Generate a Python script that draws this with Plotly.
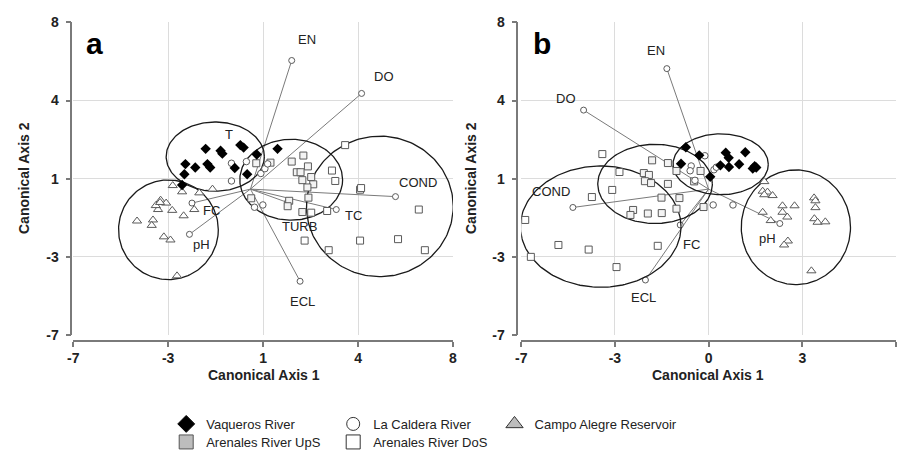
import numpy as np
import plotly.graph_objects as go

# ---------------- Panel a : canonical scores ----------------
a_vaq_x = [-1.77, -1.18, -1.11, -0.40, -0.27, 0.25, 1.07, -2.57, -2.18, -1.70, -1.59, -0.62, -2.61, -0.13, -2.70]
a_vaq_y = [1.93, 1.84, 1.70, 2.11, 1.99, 1.66, 1.93, 1.20, 1.04, 1.20, 1.04, 1.01, 0.71, 0.71, 0.20]

a_lac_x = [-0.75, -0.75, -0.16, 0.16, 0.49, 0.41, 0.57, 0.68]
a_lac_y = [1.24, 0.39, 1.32, -0.87, -0.76, 0.75, 0.98, 1.21]

a_cam_x = [-3.07, -2.70, -2.02, -1.50, -3.55, -3.65, -3.33, -3.09, -2.64, -2.22, -4.48, -3.85, -3.90, -3.42, -3.16, -2.90, -3.74, -3.57]
a_cam_y = [0.17, -0.13, -0.18, 0.00, -0.53, -0.98, -0.67, -1.02, -1.28, -0.98, -1.53, -1.48, -1.74, -2.29, -2.44, -4.16, -0.79, -0.64]

a_ups_x = [0.23, 0.79, 1.63, 2.09, 2.27, 1.83, 1.98, 2.40, 2.05, 2.48, 2.25, 2.29, 0.03, 1.53, 1.47, 2.05]
a_ups_y = [1.24, 1.27, 1.32, 1.61, 1.09, 0.81, 0.81, 0.58, 0.43, 0.23, 0.08, -0.41, -0.44, -0.56, -0.82, -1.10]

a_dos_x = [3.22, 3.35, 2.40, 3.03, 3.74, 4.33, 4.37, 6.65, 4.33, 5.83, 6.89, 2.14, 3.09]
a_dos_y = [0.89, 0.39, -1.13, -1.05, 2.11, -0.03, 0.05, -0.98, -2.47, -2.40, -2.93, -2.47, -2.93]

# structure coefficients (biplot vectors), panel a
a_vars = ["EN", "DO", "COND", "TC", "TURB", "ECL", "FC", "pH"]
a_vec_x = [1.63, 4.39, 5.73, 3.39, 1.46, 1.96, -2.31, -2.41]
a_vec_y = [6.17, 4.59, -0.36, -0.98, -0.64, -4.42, -0.67, -2.17]

# 95% ellipses, panel a: centre x, centre y, half-width, half-height
a_ell_cx = [-1.39, -3.24, 1.61, 5.11]
a_ell_cy = [1.56, -1.95, 0.45, -0.83]
a_ell_rx = [1.94, 1.97, 2.03, 2.90]
a_ell_ry = [1.66, 2.39, 1.94, 3.37]

# ---------------- Panel b : canonical scores ----------------
b_vaq_x = [-0.85, -0.35, -1.03, 0.06, 0.64, 0.75, 1.37, 0.44, 0.76, 1.14, 1.65, 1.72, 1.78]
b_vaq_y = [2.01, 1.62, 1.22, 0.59, 1.75, 1.50, 1.77, 1.14, 1.06, 1.19, 0.99, 1.10, 1.04]

b_lac_x = [-0.14, -0.65, -0.69, 0.20, 0.29, 0.17, 0.91, -0.51]
b_lac_y = [1.60, 1.11, 0.88, 0.93, 1.05, -0.76, -0.76, 0.42]

b_cam_x = [2.08, 2.02, 2.20, 2.39, 2.08, 2.02, 2.32, 2.76, 2.76, 2.94, 3.21, 3.94, 3.99, 3.99, 3.95, 4.07, 4.36, 2.96, 2.82, 3.84]
b_cam_y = [0.36, -0.10, -0.14, -0.31, -0.27, -1.11, -1.51, -0.80, -1.11, -1.34, -0.80, -0.42, -0.56, -0.89, -1.42, -1.59, -1.57, -2.49, -2.68, -3.92]

b_ups_x = [-2.11, -1.52, -1.20, -0.30, -2.42, -2.23, -2.38, -2.15, -1.52, -1.76, -1.09, -2.82, -2.92, -2.27, -1.75, -1.20, -0.54, -0.19]
b_ups_y = [1.38, 1.25, 0.87, 0.87, 0.77, 0.68, 0.38, 0.29, 0.25, -0.41, -0.43, -1.00, -1.24, -1.17, -1.15, -0.94, 0.37, -0.86]

b_dos_x = [-3.97, -3.33, -3.60, -4.36, -6.85, -6.64, -5.61, -4.48, -3.44, -1.90]
b_dos_y = [1.68, 0.82, -0.04, -0.38, -1.48, -3.25, -2.68, -2.90, -3.74, -2.72]

b_vars = ["EN", "DO", "COND", "ECL", "FC", "pH"]
b_vec_x = [-1.56, -4.67, -5.07, -2.36, -1.06, 2.66]
b_vec_y = [5.78, 3.79, -0.88, -4.36, -1.72, -1.65]

b_ell_cx = [-4.03, -2.00, 0.45, 3.26]
b_ell_cy = [-1.80, 0.25, 1.19, -1.83]
b_ell_rx = [3.00, 2.14, 1.78, 2.04]
b_ell_ry = [2.91, 1.90, 1.46, 2.75]

# axis ticks
y_tickvals = [-7, -3.25, 0.5, 4.25, 8]
y_ticktext = ["-7", "-3", "1", "4", "8"]
a_x_tickvals = [-7, -3.25, 0.5, 4.25, 8]
a_x_ticktext = ["-7", "-3", "1", "4", "8"]
b_x_tickvals = [-7, -3.5, 0, 3.5, 7]
b_x_ticktext = ["-7", "-3", "0", "3", "7"]

groups = ["Vaqueros River", "La Caldera River", "Campo Alegre Reservoir",
          "Arenales River UpS", "Arenales River DoS"]

FONT = "Liberation Sans, Arial, sans-serif"
MARK = "#5a5a5a"

# label placement for each vector (text anchor in axis units)
a_label_pos = {"EN": (2.24, 7.17), "DO": (5.29, 5.39), "COND": (6.62, 0.34), "TC": (4.07, -1.28),
               "TURB": (1.92, -1.78), "ECL": (2.05, -5.38), "FC": (-1.54, -1.02),
               "pH": (-1.93, -2.64), "T": (-0.84, 2.60)}
b_label_pos = {"EN": (-1.96, 6.67), "DO": (-5.34, 4.36), "COND": (-5.87, -0.11),
               "ECL": (-2.42, -5.20), "FC": (-0.63, -2.64), "pH": (2.20, -2.36)}

fig = go.Figure()


def ellipse(cx, cy, rx, ry, n=200):
    t = np.linspace(0, 2 * np.pi, n)
    return cx + rx * np.cos(t), cy + ry * np.sin(t)


def add_panel(xa, ya, vaq, lac, cam, ups, dos, vec, ell):
    # vectors from the origin
    for vx, vy in zip(*vec):
        fig.add_trace(go.Scatter(x=[0, vx], y=[0, vy], mode="lines",
                                 line=dict(color="#7a7a7a", width=1),
                                 xaxis=xa, yaxis=ya, showlegend=False, hoverinfo="skip"))
    fig.add_trace(go.Scatter(x=vec[0], y=vec[1], mode="markers",
                             marker=dict(symbol="circle", size=6, color="white",
                                         line=dict(color=MARK, width=1)),
                             xaxis=xa, yaxis=ya, showlegend=False))
    # ellipses
    for cx, cy, rx, ry in zip(*ell):
        ex, ey = ellipse(cx, cy, rx, ry)
        fig.add_trace(go.Scatter(x=ex, y=ey, mode="lines",
                                 line=dict(color="#1a1a1a", width=1.3),
                                 xaxis=xa, yaxis=ya, showlegend=False, hoverinfo="skip"))
    # scores
    fig.add_trace(go.Scatter(x=ups[0], y=ups[1], mode="markers",
                             marker=dict(symbol="square", size=7, color="#f3f3f3",
                                         line=dict(color=MARK, width=1)),
                             xaxis=xa, yaxis=ya, showlegend=False))
    fig.add_trace(go.Scatter(x=dos[0], y=dos[1], mode="markers",
                             marker=dict(symbol="square", size=7, color="white",
                                         line=dict(color=MARK, width=1)),
                             xaxis=xa, yaxis=ya, showlegend=False))
    fig.add_trace(go.Scatter(x=cam[0], y=cam[1], mode="markers",
                             marker=dict(symbol="triangle-up", size=8, color="white",
                                         line=dict(color=MARK, width=1)),
                             xaxis=xa, yaxis=ya, showlegend=False))
    fig.add_trace(go.Scatter(x=lac[0], y=lac[1], mode="markers",
                             marker=dict(symbol="circle", size=6.5, color="white",
                                         line=dict(color=MARK, width=1)),
                             xaxis=xa, yaxis=ya, showlegend=False))
    fig.add_trace(go.Scatter(x=vaq[0], y=vaq[1], mode="markers",
                             marker=dict(symbol="diamond", size=8, color="black",
                                         line=dict(color="black", width=0)),
                             xaxis=xa, yaxis=ya, showlegend=False))


add_panel("x", "y", (a_vaq_x, a_vaq_y), (a_lac_x, a_lac_y), (a_cam_x, a_cam_y),
          (a_ups_x, a_ups_y), (a_dos_x, a_dos_y), (a_vec_x, a_vec_y),
          (a_ell_cx, a_ell_cy, a_ell_rx, a_ell_ry))
add_panel("x2", "y2", (b_vaq_x, b_vaq_y), (b_lac_x, b_lac_y), (b_cam_x, b_cam_y),
          (b_ups_x, b_ups_y), (b_dos_x, b_dos_y), (b_vec_x, b_vec_y),
          (b_ell_cx, b_ell_cy, b_ell_rx, b_ell_ry))

# legend entries: two columns on the left, Campo Alegre in its own column
legend_styles = [
    dict(symbol="diamond", size=13, color="black", line=dict(color="black", width=1)),
    dict(symbol="circle", size=13, color="white", line=dict(color="#333", width=1)),
    dict(symbol="triangle-up", size=15, color="#bdbdbd", line=dict(color="#333", width=1)),
    dict(symbol="square", size=14, color="#bdbdbd", line=dict(color="#555", width=1)),
    dict(symbol="square", size=14, color="white", line=dict(color="#333", width=1)),
]
legend_ids = ["legend", "legend", "legend3", "legend2", "legend2"]
for name, st, lg in zip(groups, legend_styles, legend_ids):
    fig.add_trace(go.Scatter(x=[None], y=[None], mode="markers", name=name, marker=st,
                             xaxis="x", yaxis="y", legend=lg))

annotations = []
lab_font = dict(family=FONT, size=13, color="#222222")
for v, (lx, ly) in a_label_pos.items():
    annotations.append(dict(x=lx, y=ly, xref="x", yref="y", text=v, showarrow=False,
                            xanchor="center", yanchor="middle", font=lab_font))
for v, (lx, ly) in b_label_pos.items():
    annotations.append(dict(x=lx, y=ly, xref="x2", yref="y2", text=v, showarrow=False,
                            xanchor="center", yanchor="middle", font=lab_font))

W, H = 900, 457
ytop, ybot = 1 - 15 / H, 1 - 342 / H

# panel letters
for cx, letter in ((89, "a"), (542, "b")):
    annotations.append(dict(x=cx / W, y=1 - 37 / H, xref="paper", yref="paper",
                            text="<b>" + letter + "</b>", showarrow=False,
                            xanchor="center", yanchor="middle",
                            font=dict(family=FONT, size=30, color="black")))
# axis titles
for cx in (261, 710):
    annotations.append(dict(x=cx / W, y=1 - 384 / H, xref="paper", yref="paper",
                            text="<b>Canonical Axis 1</b>", showarrow=False,
                            xanchor="center", yanchor="middle",
                            font=dict(family=FONT, size=14, color="#222")))
for cx in (18, 470):
    annotations.append(dict(x=cx / W, y=1 - 178 / H, xref="paper", yref="paper",
                            text="<b>Canonical Axis 2</b>", showarrow=False, textangle=-90,
                            xanchor="center", yanchor="middle",
                            font=dict(family=FONT, size=14, color="#222")))

axis_common = dict(showgrid=True, gridcolor="#dcdcdc", gridwidth=1, zeroline=False,
                   showline=True, linecolor="#7a7a7a", linewidth=1.5,
                   ticks="outside", ticklen=5, tickcolor="#7a7a7a", tickwidth=1.5,
                   tickfont=dict(family=FONT, size=14, color="#222", weight="bold"))

legend_common = dict(orientation="h", xanchor="left", yanchor="middle",
                     entrywidth=122, entrywidthmode="pixels", itemsizing="trace",
                     font=dict(family=FONT, size=13, color="#222"),
                     bgcolor="rgba(0,0,0,0)", tracegroupgap=0)
legend3_common = dict(legend_common, entrywidth=200)

fig.update_layout(
    width=W, height=H,
    margin=dict(l=0, r=0, t=0, b=0),
    paper_bgcolor="white", plot_bgcolor="white",
    xaxis=dict(domain=[68 / W, 452 / W], range=[-7, 8], tickvals=a_x_tickvals,
               ticktext=a_x_ticktext, anchor="free", position=1 - 348 / H, **axis_common),
    yaxis=dict(domain=[ybot, ytop], range=[-7, 8], tickvals=y_tickvals, ticklabelstandoff=4,
               ticktext=y_ticktext, anchor="free", position=66 / W, **axis_common),
    xaxis2=dict(domain=[521 / W, 1.0], range=[-7, 7], tickvals=b_x_tickvals,
                ticktext=b_x_ticktext, anchor="free", position=1 - 348 / H, **axis_common),
    yaxis2=dict(domain=[ybot, ytop], range=[-7, 8], tickvals=y_tickvals, ticklabelstandoff=4,
                ticktext=y_ticktext, anchor="free", position=517 / W, **axis_common),
    legend=dict(x=162 / W, y=1 - 435 / H, **legend_common),
    legend2=dict(x=162 / W, y=1 - 454 / H, **legend_common),
    legend3=dict(x=494 / W, y=1 - 435 / H, **legend3_common),
    annotations=annotations,
    showlegend=True,
)

fig.write_html("out.html")
